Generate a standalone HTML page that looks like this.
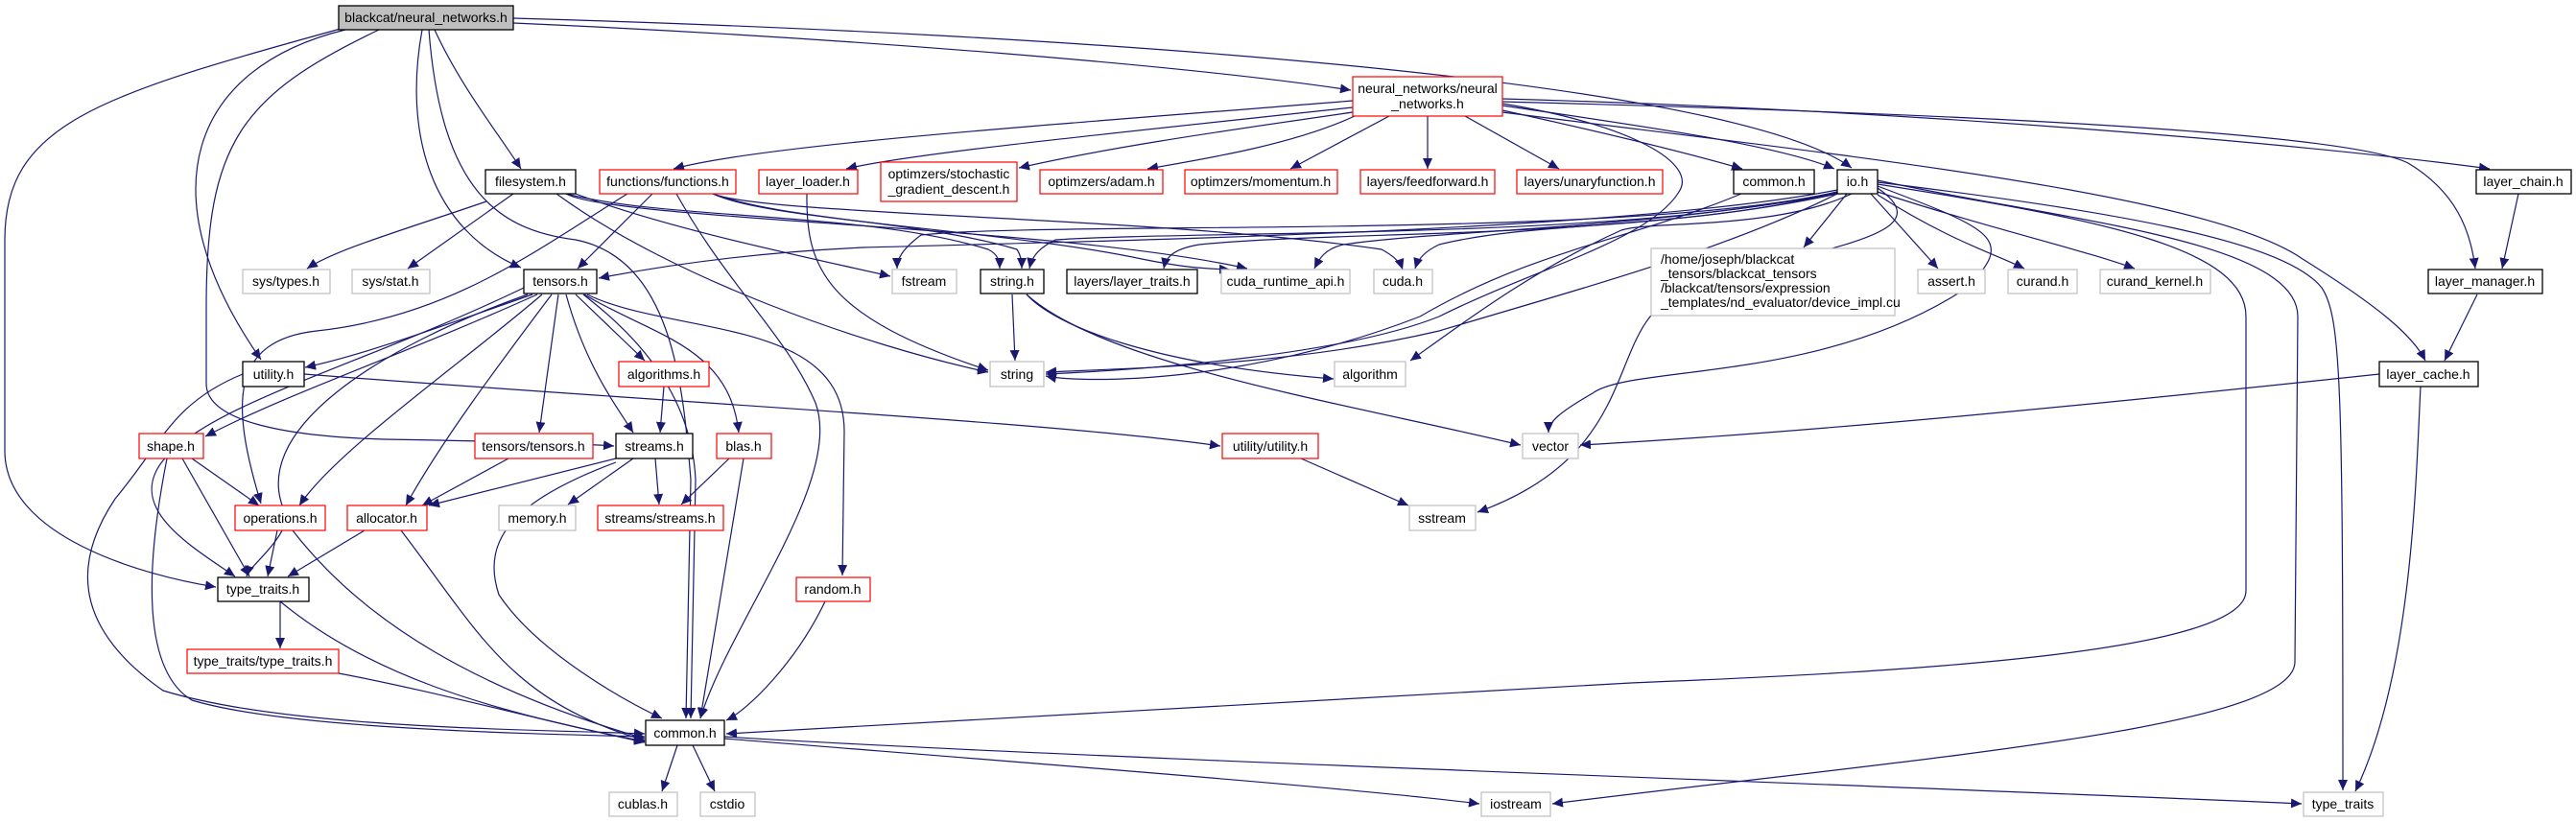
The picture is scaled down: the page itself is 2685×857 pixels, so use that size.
<!DOCTYPE html>
<html><head><meta charset="utf-8"><style>
html,body{margin:0;padding:0;background:#fff;}
svg{display:block;}
text{font-family:"Liberation Sans",Arial,sans-serif;font-size:14px;fill:#000;}
.e{fill:none;stroke:#191970;stroke-width:1.2;}
.b{fill:#fff;stroke:#000;stroke-width:1.3;}
.r{fill:#fff;stroke:#ff0000;stroke-width:1.2;}
.g{fill:#fff;stroke:#bfbfbf;stroke-width:1.2;}
</style></head><body>
<svg width="2685" height="857" viewBox="0 0 2685 857" xmlns="http://www.w3.org/2000/svg">
<defs>
<marker id="a" markerUnits="userSpaceOnUse" markerWidth="12" markerHeight="10" refX="11" refY="5" orient="auto">
<path d="M0,0 L11,5 L0,10 z" fill="#191970"/>
</marker>
</defs>
<g class="e" marker-end="url(#a)">
<path d="M535,24 C900,40 1250,70 1408,94"/>
<path d="M535,19 C1100,35 1800,80 1930,175"/>
<path d="M453,31 C480,90 520,140 543,176"/>
<path d="M440,31 C420,140 450,240 543,279"/>
<path d="M360,31 C200,70 150,200 272,375"/>
<path d="M355,30 C100,100 5,130 5,250 L5,470 C5,560 150,600 225,612"/>
<path d="M395,31 C250,100 215,150 215,320 L215,400 C215,440 300,455 400,458 C520,460 600,462 640,465"/>
<path d="M447,31 C460,200 520,240 600,250 C700,270 712,400 720,500 L715,749"/>
<path d="M1410,105 C1100,130 800,150 702,176"/>
<path d="M1410,112 C1150,140 950,160 882,176"/>
<path d="M1410,117 C1250,140 1150,155 1062,175"/>
<path d="M1412,121 C1350,150 1260,165 1196,176"/>
<path d="M1448,121 L1345,176"/>
<path d="M1488,121 L1488,176"/>
<path d="M1527,121 L1625,176"/>
<path d="M1566,115 C1680,140 1760,160 1816,176"/>
<path d="M1566,110 C1700,130 1850,150 1912,176"/>
<path d="M1566,103 C2000,115 2400,150 2595,176"/>
<path d="M1566,106 C2100,120 2450,140 2510,170 C2560,200 2575,240 2580,280"/>
<path d="M1566,117 C1900,160 2300,200 2400,270 C2480,320 2515,350 2528,376"/>
<path d="M1566,108 C1700,130 1770,170 1750,200 C1720,250 1600,280 1500,330 C1400,370 1200,385 1090,390"/>
<path d="M1925,202 L1880,258"/>
<path d="M1950,202 L2020,280"/>
<path d="M1957,203 C2030,250 2080,265 2110,280"/>
<path d="M1957,200 C2080,240 2170,260 2225,280"/>
<path d="M1957,190 C2200,220 2380,250 2420,300 C2440,330 2442,400 2442,824"/>
<path d="M1957,192 C2200,230 2341,260 2341,330 L2341,616 C2341,680 2000,700 1700,712 L757,765"/>
<path d="M1957,188 C2150,230 2395,250 2395,330 L2392,690 C2392,760 2000,790 1618,838"/>
<path d="M1957,194 C2080,240 2100,250 2050,300 C1900,400 1700,380 1660,410 C1625,430 1614,440 1614,451"/>
<path d="M1957,196 C2050,260 1800,260 1720,330 C1680,380 1690,480 1540,534"/>
<path d="M1930,202 C1850,240 1720,230 1690,240 C1600,280 1520,340 1470,376"/>
<path d="M1915,202 C1800,260 1650,300 1500,345 C1350,380 1200,383 1090,388"/>
<path d="M1915,200 C1700,250 1100,230 960,245 C940,260 935,270 935,280"/>
<path d="M1915,200 C1700,250 1250,240 1100,250 C1080,260 1075,270 1073,280"/>
<path d="M1915,202 C1700,250 1400,240 1250,255 C1220,260 1215,270 1213,280"/>
<path d="M1915,202 C1700,240 1500,240 1400,255 C1380,260 1375,270 1370,280"/>
<path d="M1915,201 C1750,240 1600,230 1500,255 C1485,262 1478,270 1475,280"/>
<path d="M1915,198 C1700,240 1200,250 900,258 C750,265 650,285 624,290"/>
<path d="M680,202 L602,280"/>
<path d="M654,202 C560,260 470,330 330,345 C240,355 240,420 272,525"/>
<path d="M705,202 C760,300 820,350 850,420 C880,500 760,650 730,749"/>
<path d="M743,202 C800,230 1050,240 1190,270 C1230,278 1250,280 1282,281"/>
<path d="M743,202 C800,225 1200,225 1440,260 C1455,268 1460,275 1462,281"/>
<path d="M743,202 C820,230 960,230 1060,260 C1065,268 1065,275 1065,280"/>
<path d="M841,202 C840,280 860,330 1030,386"/>
<path d="M507,210 C420,240 350,260 320,280"/>
<path d="M535,202 L425,280"/>
<path d="M580,202 C700,290 900,360 1030,388"/>
<path d="M600,202 C700,240 850,270 928,288"/>
<path d="M590,202 C700,230 900,220 1030,260 C1040,265 1042,272 1042,280"/>
<path d="M590,202 C640,230 1100,235 1300,280"/>
<path d="M555,307 C460,340 380,370 318,383"/>
<path d="M560,307 C420,370 300,410 214,455"/>
<path d="M565,307 C480,380 350,470 312,527"/>
<path d="M575,307 C520,380 460,460 423,527"/>
<path d="M582,307 L562,451"/>
<path d="M590,307 C610,380 640,420 660,451"/>
<path d="M600,307 L672,376"/>
<path d="M609,307 C680,350 760,360 770,451"/>
<path d="M612,307 C700,350 880,330 880,450 L878,600"/>
<path d="M608,307 C650,340 720,400 725,500 L720,749"/>
<path d="M550,307 C400,360 250,450 300,540 C290,570 260,590 257,601"/>
<path d="M546,300 C380,380 220,420 170,480 C130,530 200,570 245,601"/>
<path d="M317,390 C700,420 1100,440 1272,465"/>
<path d="M253,390 C180,420 170,460 120,520 C80,580 70,650 170,720 C300,760 550,760 672,765"/>
<path d="M692,403 L688,451"/>
<path d="M200,478 L270,527"/>
<path d="M190,478 L260,601"/>
<path d="M174,478 C150,600 150,700 200,730 C300,760 550,765 672,768"/>
<path d="M530,478 L440,527"/>
<path d="M642,478 L447,527"/>
<path d="M660,478 L592,526"/>
<path d="M683,478 L687,526"/>
<path d="M642,482 C540,520 500,560 520,620 C560,680 650,730 690,749"/>
<path d="M760,478 L710,526"/>
<path d="M775,478 L730,749"/>
<path d="M289,553 L279,601"/>
<path d="M380,553 L300,601"/>
<path d="M305,553 C380,650 500,720 672,770"/>
<path d="M418,553 C500,660 530,730 672,772"/>
<path d="M292,627 L292,676"/>
<path d="M292,627 C380,700 500,740 672,773"/>
<path d="M353,702 C450,720 580,755 672,774"/>
<path d="M860,627 C830,690 780,740 757,751"/>
<path d="M1356,478 L1468,527"/>
<path d="M1055,307 L1058,376"/>
<path d="M1070,307 C1100,340 1200,380 1390,395"/>
<path d="M1070,307 C1150,380 1400,420 1585,464"/>
<path d="M2625,202 L2608,280"/>
<path d="M2582,307 L2548,376"/>
<path d="M2480,390 C2200,420 1900,450 1647,464"/>
<path d="M2523,403 C2518,500 2515,700 2455,825"/>
<path d="M706,777 L690,825"/>
<path d="M722,777 L745,825"/>
<path d="M755,770 C1000,790 1400,820 1542,838"/>
<path d="M755,768 C1100,790 2000,820 2399,838"/>
<path d="M1815,202 C1700,250 1600,260 1480,330 C1300,400 1130,400 1090,392"/>
</g>
<g>
<rect x="353" y="6" width="182" height="25" fill="#bfbfbf" stroke="#000" stroke-width="1.3"/><text x="444" y="23" text-anchor="middle">blackcat/neural_networks.h</text>
<rect class="r" x="1410" y="80" width="156" height="41"/><text x="1488" y="97" text-anchor="middle">neural_networks/neural</text><text x="1488" y="113" text-anchor="middle">_networks.h</text>
<rect class="b" x="506" y="177" width="94" height="25"/><text x="553" y="194" text-anchor="middle">filesystem.h</text>
<rect class="r" x="625" y="177" width="142" height="25"/><text x="696" y="194" text-anchor="middle">functions/functions.h</text>
<rect class="r" x="791" y="177" width="103" height="25"/><text x="842" y="194" text-anchor="middle">layer_loader.h</text>
<rect class="r" x="918" y="169" width="142" height="41"/><text x="989" y="186" text-anchor="middle">optimzers/stochastic</text><text x="989" y="202" text-anchor="middle">_gradient_descent.h</text>
<rect class="r" x="1084" y="177" width="128" height="25"/><text x="1148" y="194" text-anchor="middle">optimzers/adam.h</text>
<rect class="r" x="1235" y="177" width="159" height="25"/><text x="1314" y="194" text-anchor="middle">optimzers/momentum.h</text>
<rect class="r" x="1418" y="177" width="140" height="25"/><text x="1488" y="194" text-anchor="middle">layers/feedforward.h</text>
<rect class="r" x="1581" y="177" width="152" height="25"/><text x="1657" y="194" text-anchor="middle">layers/unaryfunction.h</text>
<rect class="b" x="1807" y="177" width="84" height="25"/><text x="1849" y="194" text-anchor="middle">common.h</text>
<rect class="b" x="1915" y="177" width="42" height="25"/><text x="1936" y="194" text-anchor="middle">io.h</text>
<rect class="b" x="2581" y="177" width="99" height="25"/><text x="2630" y="194" text-anchor="middle">layer_chain.h</text>
<rect class="g" x="253" y="281" width="91" height="25"/><text x="298" y="298" text-anchor="middle">sys/types.h</text>
<rect class="g" x="367" y="281" width="81" height="25"/><text x="407" y="298" text-anchor="middle">sys/stat.h</text>
<rect class="b" x="546" y="281" width="76" height="25"/><text x="584" y="298" text-anchor="middle">tensors.h</text>
<rect class="g" x="930" y="281" width="67" height="25"/><text x="963" y="298" text-anchor="middle">fstream</text>
<rect class="b" x="1022" y="281" width="66" height="25"/><text x="1055" y="298" text-anchor="middle">string.h</text>
<rect class="b" x="1112" y="281" width="136" height="25"/><text x="1180" y="298" text-anchor="middle">layers/layer_traits.h</text>
<rect class="g" x="1273" y="281" width="134" height="25"/><text x="1340" y="298" text-anchor="middle">cuda_runtime_api.h</text>
<rect class="g" x="1432" y="281" width="61" height="25"/><text x="1462" y="298" text-anchor="middle">cuda.h</text>
<rect class="g" x="1721" y="259" width="254" height="70"/>
<text x="1731" y="275">/home/joseph/blackcat</text><text x="1731" y="290">_tensors/blackcat_tensors</text><text x="1731" y="305">/blackcat/tensors/expression</text><text x="1731" y="320">_templates/nd_evaluator/device_impl.cu</text>
<rect class="g" x="1999" y="281" width="70" height="25"/><text x="2034" y="298" text-anchor="middle">assert.h</text>
<rect class="g" x="2093" y="281" width="72" height="25"/><text x="2129" y="298" text-anchor="middle">curand.h</text>
<rect class="g" x="2189" y="281" width="115" height="25"/><text x="2246" y="298" text-anchor="middle">curand_kernel.h</text>
<rect class="b" x="2531" y="281" width="119" height="25"/><text x="2590" y="298" text-anchor="middle">layer_manager.h</text>
<rect class="b" x="253" y="377" width="64" height="26"/><text x="285" y="395" text-anchor="middle">utility.h</text>
<rect class="r" x="645" y="377" width="94" height="26"/><text x="692" y="395" text-anchor="middle">algorithms.h</text>
<rect class="g" x="1032" y="377" width="56" height="26"/><text x="1060" y="395" text-anchor="middle">string</text>
<rect class="g" x="1391" y="377" width="74" height="26"/><text x="1428" y="395" text-anchor="middle">algorithm</text>
<rect class="b" x="2480" y="377" width="103" height="26"/><text x="2531" y="395" text-anchor="middle">layer_cache.h</text>
<rect class="r" x="145" y="452" width="67" height="26"/><text x="178" y="470" text-anchor="middle">shape.h</text>
<rect class="r" x="495" y="452" width="123" height="26"/><text x="556" y="470" text-anchor="middle">tensors/tensors.h</text>
<rect class="b" x="642" y="452" width="80" height="26"/><text x="682" y="470" text-anchor="middle">streams.h</text>
<rect class="r" x="747" y="452" width="57" height="26"/><text x="775" y="470" text-anchor="middle">blas.h</text>
<rect class="r" x="1274" y="452" width="100" height="26"/><text x="1324" y="470" text-anchor="middle">utility/utility.h</text>
<rect class="g" x="1587" y="452" width="58" height="26"/><text x="1616" y="470" text-anchor="middle">vector</text>
<rect class="r" x="245" y="527" width="94" height="26"/><text x="292" y="545" text-anchor="middle">operations.h</text>
<rect class="r" x="362" y="527" width="83" height="26"/><text x="403" y="545" text-anchor="middle">allocator.h</text>
<rect class="g" x="520" y="527" width="80" height="26"/><text x="560" y="545" text-anchor="middle">memory.h</text>
<rect class="r" x="623" y="527" width="131" height="26"/><text x="688" y="545" text-anchor="middle">streams/streams.h</text>
<rect class="g" x="1469" y="527" width="69" height="26"/><text x="1503" y="545" text-anchor="middle">sstream</text>
<rect class="b" x="227" y="602" width="95" height="25"/><text x="274" y="619" text-anchor="middle">type_traits.h</text>
<rect class="r" x="830" y="602" width="77" height="25"/><text x="868" y="619" text-anchor="middle">random.h</text>
<rect class="r" x="195" y="677" width="158" height="25"/><text x="274" y="694" text-anchor="middle">type_traits/type_traits.h</text>
<rect class="b" x="673" y="751" width="82" height="26"/><text x="714" y="769" text-anchor="middle">common.h</text>
<rect class="g" x="635" y="826" width="71" height="25"/><text x="670" y="843" text-anchor="middle">cublas.h</text>
<rect class="g" x="730" y="826" width="57" height="25"/><text x="758" y="843" text-anchor="middle">cstdio</text>
<rect class="g" x="1544" y="826" width="72" height="25"/><text x="1580" y="843" text-anchor="middle">iostream</text>
<rect class="g" x="2401" y="826" width="83" height="25"/><text x="2442" y="843" text-anchor="middle">type_traits</text>
</g>
</svg>
</body></html>
